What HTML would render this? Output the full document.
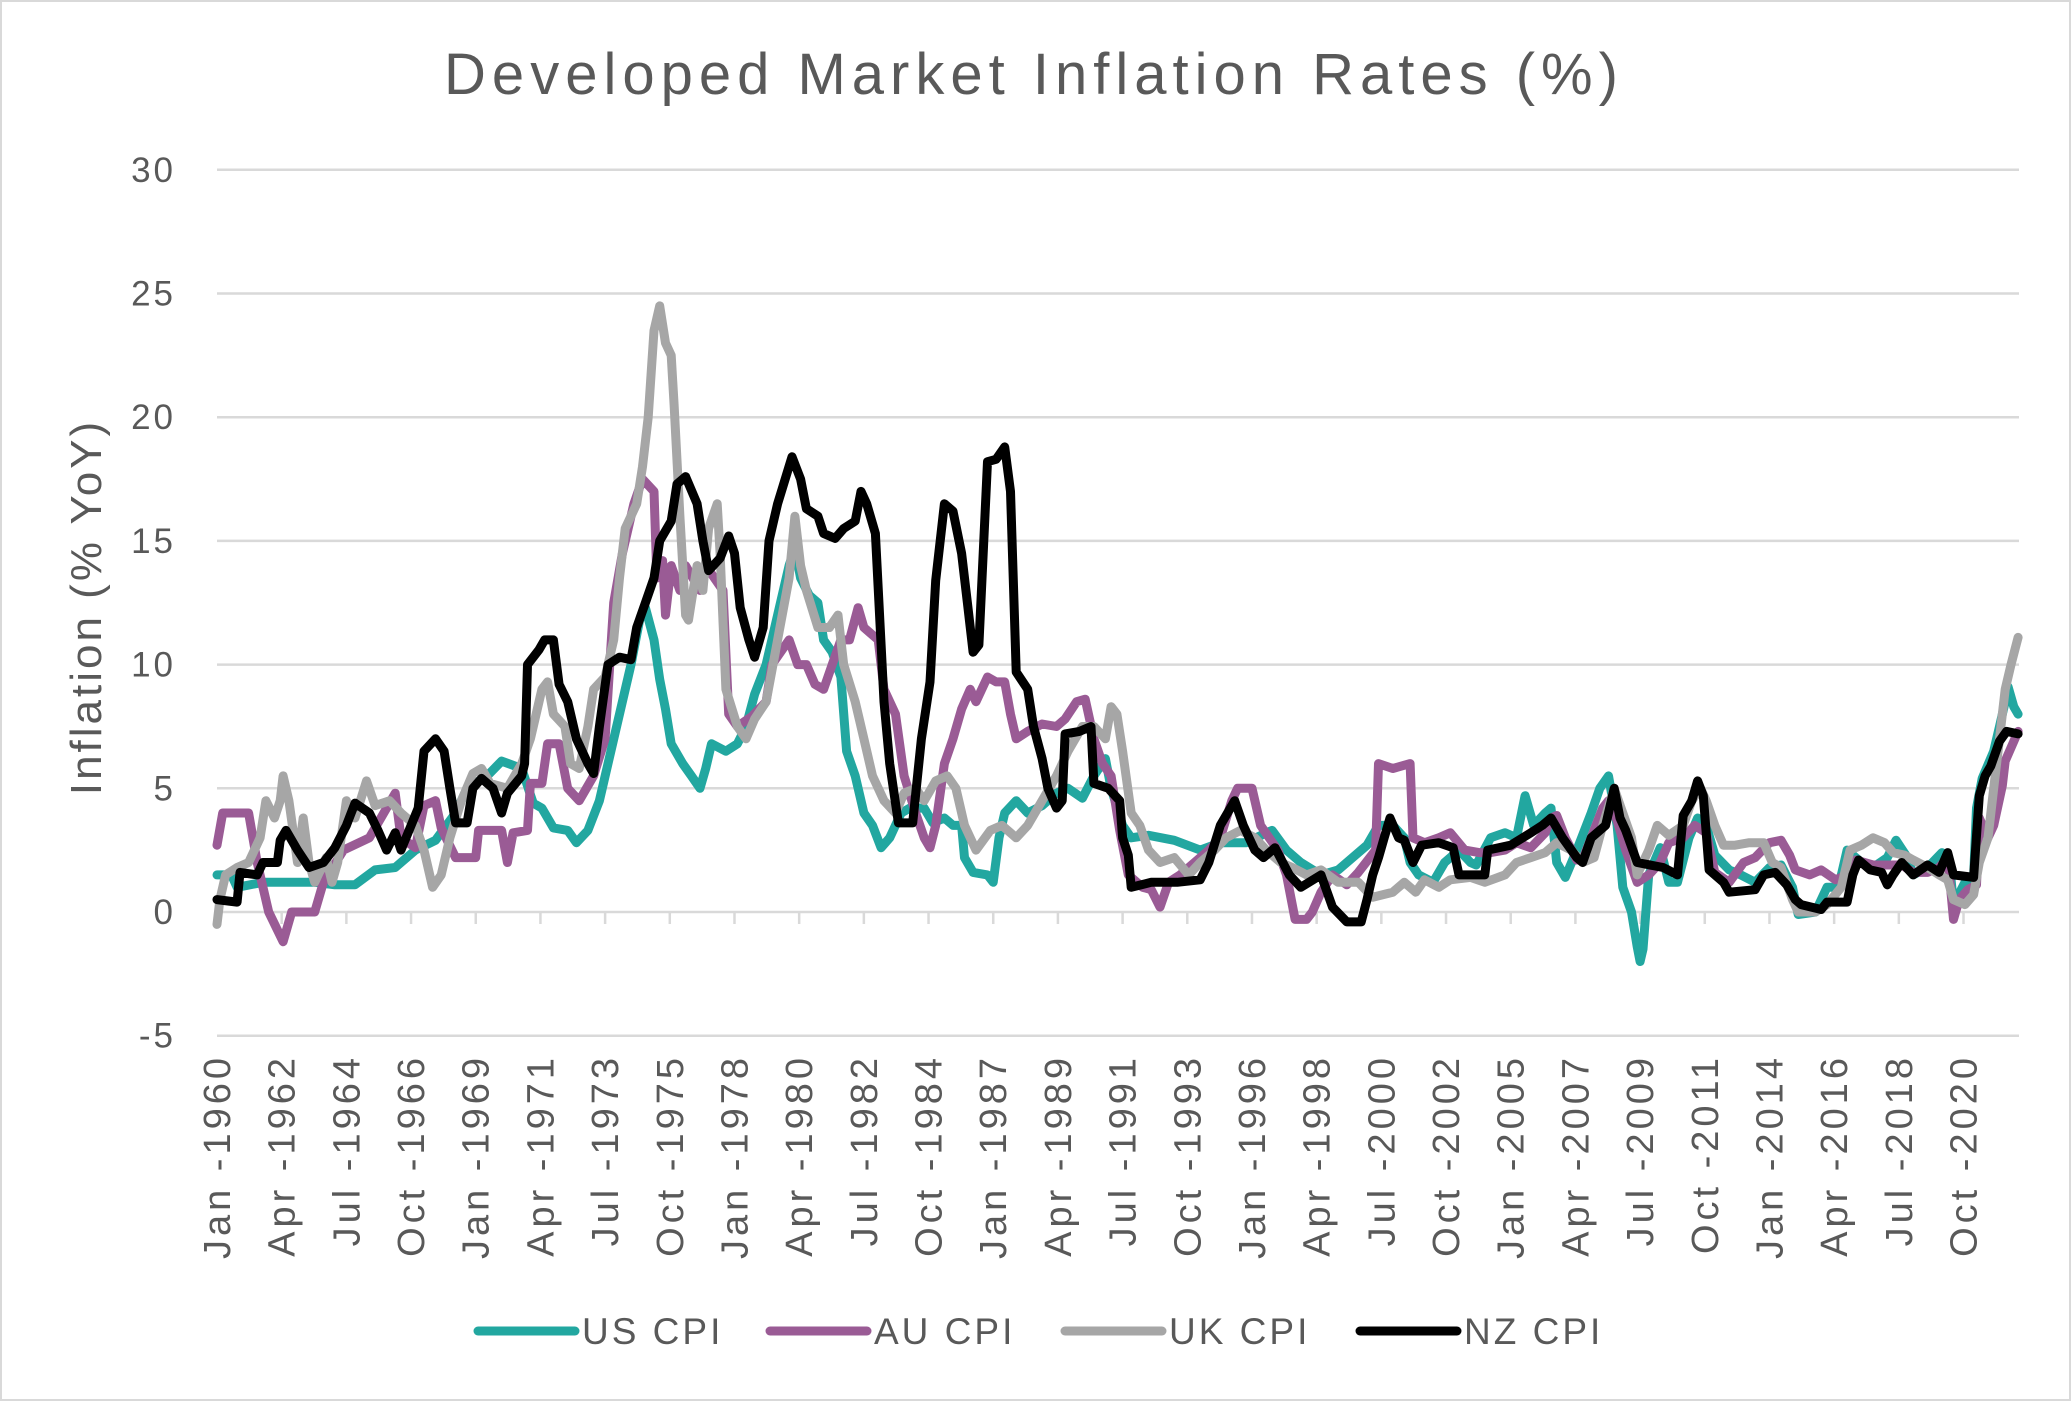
<!DOCTYPE html>
<html><head><meta charset="utf-8"><style>
html,body{margin:0;padding:0;background:#fff;}
svg{display:block;font-family:"Liberation Sans",sans-serif;}
</style></head><body>
<svg id="chart" width="2071" height="1401" viewBox="0 0 2071 1401">
<rect x="1" y="1" width="2069" height="1399" fill="#fff" stroke="#d9d9d9" stroke-width="2"/>
<text x="1034" y="94" text-anchor="middle" font-size="58" fill="#595959" letter-spacing="6">Developed Market Inflation Rates (%)</text>
<text transform="translate(101,607) rotate(-90)" text-anchor="middle" font-size="44" fill="#595959" letter-spacing="3">Inflation (% YoY)</text>
<g id="grid"></g><g id="yticks"></g><g id="xticks"></g><g id="series"></g><g id="legend"></g>
</svg>
<script>
const yTicks=[30,25,20,15,10,5,0,-5];
const xLabels=["Jan -1960","Apr -1962","Jul -1964","Oct -1966","Jan -1969","Apr -1971","Jul -1973","Oct -1975","Jan -1978","Apr -1980","Jul -1982","Oct -1984","Jan -1987","Apr -1989","Jul -1991","Oct -1993","Jan -1996","Apr -1998","Jul -2000","Oct -2002","Jan -2005","Apr -2007","Jul -2009","Oct -2011","Jan -2014","Apr -2016","Jul -2018","Oct -2020"];
const seriesNames=["US CPI","AU CPI","UK CPI","NZ CPI"];
const usYears=[1960,1960.5,1960.7,1961.6,1962.5,1963.4,1964.1,1964.8,1965.5,1966.2,1966.9,1967.6,1968.3,1968.7,1969.4,1969.9,1970.6,1971,1971.3,1971.7,1972.2,1972.5,1972.9,1973.3,1973.6,1974,1974.4,1974.7,1974.9,1975.2,1975.4,1975.6,1975.8,1976.2,1976.5,1976.8,1977,1977.2,1977.7,1978.1,1978.4,1978.7,1979.1,1979.5,1979.9,1980.1,1980.3,1980.6,1980.9,1981.1,1981.4,1981.7,1981.9,1982.2,1982.5,1982.8,1983.1,1983.4,1983.8,1984.1,1984.6,1984.9,1985.3,1985.6,1985.9,1986,1986.3,1986.8,1987,1987.2,1987.4,1987.8,1988.2,1988.7,1989.2,1989.6,1990.1,1990.5,1990.9,1991.1,1991.5,1991.8,1992.4,1993.3,1994.2,1994.9,1995.8,1996.5,1996.7,1997.2,1997.7,1998.4,1999,1999.5,2000,2000.4,2000.9,2001.3,2001.5,2001.8,2002.3,2002.7,2003.2,2003.6,2003.8,2004.3,2004.8,2005.2,2005.5,2005.8,2006.2,2006.4,2006.6,2006.9,2007.3,2007.8,2008.1,2008.4,2008.7,2008.9,2009.2,2009.4,2009.5,2009.6,2009.8,2010.2,2010.5,2010.8,2011.2,2011.5,2011.8,2012.1,2012.6,2013,2013.5,2014,2014.4,2014.8,2015,2015.6,2016,2016.4,2016.7,2017.2,2017.6,2018.1,2018.4,2018.8,2019,2019.5,2020,2020.3,2020.4,2020.8,2021.1,2021.2,2021.4,2021.8,2022,2022.2,2022.3,2022.5,2022.65];
const usValues=[1.5,1.5,1.0,1.2,1.2,1.2,1.1,1.1,1.7,1.8,2.5,2.9,4.0,5.0,5.5,6.1,5.8,4.4,4.2,3.4,3.3,2.8,3.3,4.5,6.0,8.0,10.0,11.8,12.3,11.0,9.4,8.2,6.8,6.0,5.5,5.0,5.8,6.8,6.5,6.8,7.5,8.8,10.0,12.0,14.0,14.7,13.5,12.8,12.5,11.0,10.5,9.5,6.5,5.5,4.0,3.5,2.6,3.0,4.0,4.2,4.2,3.6,3.8,3.5,3.5,2.2,1.6,1.5,1.2,3.0,4.0,4.5,4.0,4.3,4.8,5.0,4.6,5.5,6.2,5.0,3.5,3.0,3.1,2.9,2.5,2.8,2.8,3.2,3.3,2.5,2.0,1.5,1.7,2.2,2.7,3.5,3.5,3.0,2.0,1.5,1.2,2.0,2.5,2.0,1.9,3.0,3.2,3.0,4.7,3.5,4.0,4.2,2.0,1.4,2.5,4.0,5.0,5.5,3.5,1.0,0.0,-1.4,-2.0,-1.5,1.5,2.6,1.2,1.2,3.0,3.8,3.5,2.3,1.7,1.5,1.2,1.8,1.9,1.0,-0.1,0.0,1.0,1.0,2.5,2.0,1.8,2.2,2.9,2.2,1.5,1.8,2.4,1.5,0.3,1.2,1.4,4.2,5.4,6.5,7.5,8.5,9.1,8.3,8.0];
const auYears=[1960,1960.2,1961.1,1961.4,1961.8,1962.3,1962.6,1963.4,1963.7,1964.4,1965.3,1965.7,1966.2,1966.4,1966.9,1967.2,1967.6,1967.8,1968.3,1969,1969.1,1969.9,1970.1,1970.3,1970.8,1970.9,1971.3,1971.5,1971.9,1972.2,1972.6,1973.1,1973.5,1973.8,1974.1,1974.5,1974.8,1975.2,1975.3,1975.5,1975.6,1975.8,1976.1,1976.3,1976.8,1977,1977.3,1977.6,1977.8,1978.1,1978.6,1979.1,1979.3,1979.6,1979.9,1980.2,1980.5,1980.8,1981.1,1981.4,1981.7,1982,1982.3,1982.5,1983,1983.2,1983.6,1983.9,1984.3,1984.6,1984.8,1985,1985.3,1985.6,1985.9,1986.2,1986.4,1986.8,1987.1,1987.4,1987.6,1987.8,1988.2,1988.7,1989.2,1989.5,1989.9,1990.2,1990.5,1990.8,1991.1,1991.4,1991.7,1992.2,1992.5,1992.8,1993.1,1993.5,1994,1994.5,1994.9,1995.3,1995.5,1996,1996.3,1996.6,1996.9,1997.2,1997.5,1997.9,1998.1,1998.4,1998.8,1999.3,1999.7,2000.1,2000.3,2000.4,2000.9,2001.5,2001.6,2002,2002.5,2002.9,2003.4,2003.9,2004.3,2004.8,2005.2,2005.7,2006.2,2006.4,2006.6,2006.9,2007.3,2007.5,2007.8,2008.2,2008.4,2008.7,2009,2009.4,2009.8,2010.2,2010.5,2011,2011.4,2011.8,2012.1,2012.6,2013.1,2013.5,2014,2014.4,2014.7,2014.9,2015.4,2015.8,2016.3,2016.7,2017,2017.6,2018.1,2018.6,2019,2019.5,2019.9,2020.2,2020.4,2020.6,2020.9,2021.2,2021.3,2021.6,2021.8,2022.1,2022.2,2022.65];
const auValues=[2.7,4.0,4.0,2.0,0.0,-1.2,0.0,0.0,1.2,2.5,3.0,3.8,4.8,3.0,2.6,4.3,4.5,3.4,2.2,2.2,3.3,3.3,2.0,3.2,3.3,5.2,5.2,6.8,6.8,5.0,4.5,5.5,7.0,12.5,14.5,16.5,17.5,17.0,13.5,14.2,12.0,14.0,13.0,14.0,13.0,14.0,13.5,13.0,8.0,7.5,7.9,8.5,10.0,10.5,11.0,10.0,10.0,9.2,9.0,10.0,11.0,11.0,12.3,11.5,11.0,9.0,8.0,5.5,4.0,3.0,2.6,3.5,6.0,7.0,8.2,9.0,8.5,9.5,9.3,9.3,8.0,7.0,7.3,7.6,7.5,7.8,8.5,8.6,7.0,6.0,5.5,3.3,1.5,1.0,0.9,0.2,1.2,1.5,2.0,2.5,3.0,4.5,5.0,5.0,3.5,3.0,2.5,1.5,-0.3,-0.3,0.0,0.8,1.5,1.1,1.6,2.2,2.5,6.0,5.8,6.0,3.0,2.8,3.0,3.2,2.5,2.4,2.4,2.5,2.8,2.6,3.2,3.8,3.9,3.0,2.1,2.1,3.0,4.2,4.5,3.7,2.5,1.2,1.5,2.0,2.8,3.0,3.5,3.2,1.6,1.2,2.0,2.2,2.8,2.9,2.3,1.7,1.5,1.7,1.3,1.5,2.1,1.9,1.9,1.9,1.6,1.6,1.8,2.2,-0.3,0.5,0.9,1.1,3.8,3.0,3.5,5.1,6.1,7.3];
const ukYears=[1960,1960.1,1960.3,1960.7,1961.1,1961.5,1961.7,1962,1962.2,1962.3,1962.5,1962.8,1963,1963.2,1963.4,1963.8,1964,1964.2,1964.5,1964.8,1965.2,1965.5,1966,1966.4,1966.9,1967.2,1967.5,1967.8,1968.1,1968.5,1968.9,1969.2,1969.5,1970.1,1970.6,1970.9,1971.3,1971.5,1971.7,1972.1,1972.3,1972.6,1972.9,1973.1,1973.5,1973.8,1974,1974.2,1974.6,1974.8,1975,1975.2,1975.4,1975.6,1975.8,1975.9,1976.1,1976.3,1976.4,1976.7,1976.9,1977.1,1977.4,1977.5,1977.7,1978.1,1978.4,1978.7,1979.1,1979.5,1979.9,1980.1,1980.3,1980.5,1980.9,1981.3,1981.6,1981.8,1982.2,1982.5,1982.8,1983.2,1983.6,1983.9,1984.3,1984.6,1985,1985.4,1985.7,1986,1986.4,1986.9,1987.3,1987.8,1988.2,1988.7,1989.2,1989.6,1990.1,1990.5,1990.9,1991.1,1991.3,1991.5,1991.8,1992.1,1992.4,1992.8,1993.3,1993.8,1994.2,1994.7,1995.1,1995.6,1996.1,1996.5,1997,1997.4,1997.9,1998.4,1999,1999.7,2000.2,2000.9,2001.3,2001.7,2002,2002.5,2002.9,2003.6,2004.1,2004.8,2005.2,2005.7,2006.2,2006.6,2007.1,2007.5,2007.9,2008.2,2008.6,2008.9,2009.2,2009.4,2009.8,2010.1,2010.5,2011,2011.3,2011.6,2011.8,2012.1,2012.4,2012.8,2013.3,2013.8,2014.1,2014.4,2014.8,2015,2015.6,2016,2016.5,2016.8,2017.2,2017.6,2018,2018.3,2018.7,2019,2019.5,2019.9,2020.2,2020.4,2020.8,2021.1,2021.3,2021.6,2021.8,2022,2022.2,2022.4,2022.65];
const ukValues=[-0.5,0.5,1.5,1.8,2.0,3.0,4.5,3.8,4.5,5.5,4.5,2.0,3.8,2.0,1.2,2.2,1.2,2.0,4.5,3.8,5.3,4.3,4.5,4.0,3.5,2.5,1.0,1.5,3.0,4.5,5.6,5.8,5.2,5.0,6.0,7.0,9.0,9.3,8.0,7.5,6.0,5.8,7.5,9.0,9.5,11.0,13.5,15.5,16.5,18.0,20.0,23.5,24.5,23.0,22.5,20.5,16.0,12.0,11.8,14.0,13.0,15.5,16.5,14.5,9.0,7.5,7.0,7.8,8.5,11.0,13.5,16.0,14.0,13.0,11.5,11.5,12.0,10.0,8.5,7.0,5.5,4.5,4.0,4.8,5.0,4.5,5.3,5.5,5.0,3.5,2.5,3.3,3.5,3.0,3.5,4.5,5.5,6.5,7.5,7.5,7.0,8.3,8.0,6.5,4.0,3.5,2.5,2.0,2.2,1.5,2.0,2.5,3.0,3.3,3.0,2.5,2.0,1.8,1.5,1.7,1.2,1.2,0.6,0.8,1.2,0.8,1.3,1.0,1.3,1.4,1.2,1.5,2.0,2.2,2.4,2.8,2.5,2.0,2.2,3.5,5.0,4.0,3.0,1.5,2.5,3.5,3.1,3.5,4.5,5.0,4.5,3.5,2.7,2.7,2.8,2.8,2.0,1.8,0.5,0.0,0.0,0.3,1.0,2.5,2.7,3.0,2.8,2.4,2.3,2.1,1.8,1.5,1.3,0.5,0.3,0.7,2.0,3.0,5.0,7.0,9.0,10.0,11.1];
const nzYears=[1960,1960.7,1960.8,1961.4,1961.6,1962.1,1962.2,1962.4,1962.8,1963.2,1963.7,1964.1,1964.5,1964.8,1965.3,1965.6,1965.9,1966.2,1966.4,1967,1967.2,1967.6,1967.9,1968.1,1968.3,1968.7,1968.9,1969.2,1969.6,1969.9,1970.1,1970.6,1970.7,1970.8,1971.2,1971.4,1971.7,1971.9,1972.2,1972.5,1972.9,1973.1,1973.3,1973.6,1974,1974.4,1974.6,1974.9,1975.2,1975.4,1975.8,1976,1976.3,1976.7,1976.9,1977.1,1977.5,1977.8,1978,1978.2,1978.5,1978.7,1979,1979.2,1979.5,1980,1980.3,1980.5,1980.9,1981.1,1981.5,1981.8,1982.2,1982.4,1982.6,1982.9,1983.2,1983.4,1983.7,1984.2,1984.5,1984.8,1985,1985.3,1985.6,1985.9,1986.1,1986.3,1986.5,1986.8,1987.1,1987.4,1987.6,1987.8,1988.2,1988.4,1988.7,1988.9,1989.2,1989.4,1989.5,1990,1990.4,1990.5,1991,1991.4,1991.5,1991.7,1991.8,1992.5,1993.4,1994.2,1994.5,1994.9,1995.4,1995.7,1996.1,1996.4,1996.8,1997.3,1997.7,1998.4,1998.8,1999.3,1999.8,2000.0,2000.2,2000.4,2000.6,2000.8,2001.1,2001.3,2001.6,2001.9,2002.5,2003,2003.2,2004.1,2004.2,2005,2005.7,2006.1,2006.4,2006.8,2007.3,2007.5,2007.8,2008.3,2008.6,2008.8,2009,2009.4,2010.3,2010.8,2011,2011.3,2011.5,2011.7,2011.9,2012.4,2012.6,2013.5,2013.8,2014.2,2014.6,2014.9,2015.1,2015.8,2016,2016.7,2016.9,2017.1,2017.5,2017.9,2018.1,2018.3,2018.6,2019,2019.5,2019.9,2020.2,2020.4,2021.1,2021.3,2021.5,2021.7,2022,2022.25,2022.65];
const nzValues=[0.5,0.4,1.6,1.5,2.0,2.0,2.9,3.3,2.5,1.8,2.0,2.6,3.5,4.4,4.0,3.3,2.5,3.2,2.5,4.2,6.5,7.0,6.5,5.0,3.6,3.6,5.0,5.4,5.0,4.0,4.8,5.5,6.0,10.0,10.6,11.0,11.0,9.2,8.5,7.0,6.0,5.6,7.5,10.0,10.3,10.2,11.5,12.5,13.5,15.0,15.8,17.3,17.6,16.5,15.0,13.8,14.3,15.2,14.5,12.3,11.0,10.3,11.5,15.0,16.5,18.4,17.5,16.3,16.0,15.3,15.1,15.5,15.8,17.0,16.5,15.3,8.5,6.0,3.6,3.6,7.0,9.3,13.4,16.5,16.2,14.5,12.5,10.5,10.8,18.2,18.3,18.8,17.0,9.7,9.0,7.5,6.2,5.0,4.2,4.5,7.2,7.3,7.5,5.2,5.0,4.5,3.0,2.3,1.0,1.2,1.2,1.3,2.0,3.5,4.5,3.5,2.5,2.2,2.6,1.5,1.0,1.5,0.2,-0.4,-0.4,0.5,1.5,2.2,3.0,3.8,3.0,2.9,2.0,2.7,2.8,2.6,1.5,1.5,2.5,2.7,3.2,3.5,3.8,3.0,2.2,2.0,3.0,3.5,5.0,3.8,3.3,2.0,1.8,1.5,3.9,4.5,5.3,4.7,1.7,1.2,0.8,0.9,1.5,1.6,1.1,0.5,0.3,0.1,0.4,0.4,1.5,2.1,1.7,1.6,1.1,1.5,2.0,1.5,1.9,1.6,2.4,1.5,1.4,4.7,5.5,5.9,6.9,7.3,7.2];

const NS="http://www.w3.org/2000/svg";
const X0=217,X1=2019,T0=1960,T1=2022.68,Y0=912,PX5=123.7;
function xs(t){return X0+(t-T0)*(X1-X0)/(T1-T0);}
function ys(v){return Y0-v*PX5/5;}
function mk(tag,attrs,parent){const e=document.createElementNS(NS,tag);for(const k in attrs)e.setAttribute(k,attrs[k]);parent.appendChild(e);return e;}
const grid=document.getElementById('grid'),yt=document.getElementById('yticks'),xt=document.getElementById('xticks'),sg=document.getElementById('series'),lg=document.getElementById('legend');
yTicks.forEach(v=>{
  const l=mk('line',{x1:X0,x2:X1,y1:ys(v),y2:ys(v),stroke:'#d9d9d9','stroke-width':2.5},grid);
  
  
  const t=mk('text',{x:176,y:ys(v)+12,'text-anchor':'end','font-size':35,'letter-spacing':3,fill:'#595959'},yt);
  t.textContent=String(v);
  
  
});
xLabels.forEach((s,i)=>{
  const t0=T0+i*27/12;const x=xs(t0);
  const tk=mk('line',{x1:x,x2:x,y1:Y0,y2:Y0+12,stroke:'#d9d9d9','stroke-width':2.5},xt);
  
  
  const t=mk('text',{transform:'translate('+(x+13)+',1054) rotate(-90)','text-anchor':'end','font-size':38,'letter-spacing':4,fill:'#595959'},xt);
  t.textContent=s;
  
  
});
const seriesData=[[usYears,usValues,'#22a7a0'],[auYears,auValues,'#9a5b95'],[ukYears,ukValues,'#a6a6a6'],[nzYears,nzValues,'#000000']];
seriesData.forEach((s,i)=>{
  const pts=s[0].map((t,j)=>xs(t).toFixed(1)+','+ys(s[1][j]).toFixed(1)).join(' ');
  const p=mk('polyline',{points:pts,fill:'none',stroke:s[2],'stroke-width':9,'stroke-linejoin':'round','stroke-linecap':'round'},sg);
  
  
});
const legX=[478,770,1065,1360];
seriesNames.forEach((n,i)=>{
  const l=mk('line',{x1:legX[i],x2:legX[i]+97,y1:1331,y2:1331,stroke:seriesData[i][2],'stroke-width':9,'stroke-linecap':'round'},lg);
  
  
  const t=mk('text',{x:legX[i]+104,y:1344,'font-size':37,'letter-spacing':3,fill:'#595959'},lg);
  t.textContent=n;
  
  
});
</script>
</body></html>
